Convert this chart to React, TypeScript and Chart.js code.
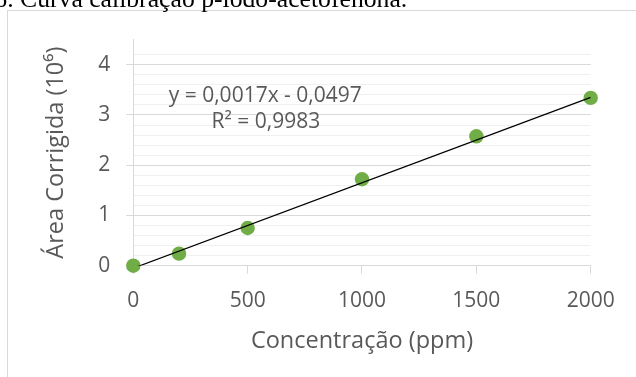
import React, { useEffect, useRef } from "react";
import { Chart, registerables } from "chart.js";
Chart.register(...registerables);

const CONCENTRATION = [0, 200, 500, 1000, 1500, 2000];
const AREA = [0, 0.24, 0.75, 1.72, 2.575, 3.34];
const TREND_SLOPE = 0.0017;
const TREND_INTERCEPT = -0.0497;
const TREND_X = [0, 2000];
const EQUATION_LABEL = "y = 0,0017x - 0,0497";
const R2_LABEL = "R² = 0,9983";
const X_TITLE = "Concentração (ppm)";
const Y_TITLE = "Área Corrigida (10⁶)";
const CAPTION = "6. Curva calibração p-iodo-acetofenona.";

const TEXT = "#595959";
const FONT_FAMILY = "'Open Sans', sans-serif";
const TICK_SIZE = 21;
const TITLE_SIZE = 23.5;

const isInt = (v: number) => Math.abs(v - Math.round(v)) < 1e-6;
const isMinor = (v: number) => Math.abs(v * 5 - Math.round(v * 5)) < 1e-6;

const labelPlugin = {
  id: "trendLabel",
  afterDatasetsDraw(chart: any) {
    const { ctx, scales } = chart;
    const x = scales.x;
    const y = scales.y;
    ctx.save();
    ctx.fillStyle = TEXT;
    ctx.font = `${TICK_SIZE}px ${FONT_FAMILY}`;
    ctx.textAlign = "center";
    ctx.textBaseline = "middle";
    ctx.fillText(EQUATION_LABEL, x.getPixelForValue(577), y.getPixelForValue(3.38));
    ctx.fillText(R2_LABEL, x.getPixelForValue(580), y.getPixelForValue(2.86));
    ctx.restore();
  },
};

export default function App() {
  const ref = useRef<HTMLCanvasElement | null>(null);

  useEffect(() => {
    if (!ref.current) return;
    const points = CONCENTRATION.map((c, i) => ({ x: c, y: AREA[i] }));
    const trend = TREND_X.map((c) => ({ x: c, y: TREND_SLOPE * c + TREND_INTERCEPT }));
    const chart = new Chart(ref.current, {
      type: "scatter",
      data: {
        datasets: [
          {
            type: "line",
            data: trend,
            borderColor: "#000000",
            borderWidth: 1.2,
            pointRadius: 0,
            fill: false,
            clip: 0,
          } as any,
          {
            type: "scatter",
            data: points,
            backgroundColor: "#70AD47",
            borderWidth: 0,
            pointRadius: 7.2,
            clip: false,
          } as any,
        ],
      },
      options: {
        animation: false,
        responsive: false,
        events: [],
        layout: { padding: { top: 27, right: 117.3, left: 0, bottom: 0 } },
        plugins: { legend: { display: false }, tooltip: { enabled: false } },
        scales: {
          x: {
            type: "linear",
            min: 0,
            max: 2000,
            afterFit: (s: any) => {
              s.height = 145.3;
            },
            ticks: {
              stepSize: 500,
              color: TEXT,
              font: { family: FONT_FAMILY, size: TICK_SIZE },
              padding: 14.5,
              maxRotation: 0,
              callback: (v: any) => String(Math.round(Number(v))),
            },
            grid: {
              drawOnChartArea: false,
              drawTicks: true,
              tickLength: 8,
              tickColor: "#d9d9d9",
              color: "#d9d9d9",
            },
            border: { color: "#d9d9d9", width: 1 },
            title: {
              display: true,
              text: X_TITLE,
              color: TEXT,
              font: { family: FONT_FAMILY, size: TITLE_SIZE },
              padding: { top: 0, bottom: 55.7 },
            },
          },
          y: {
            type: "linear",
            min: 0,
            max: 4.5,
            afterFit: (s: any) => {
              s.width = 125.3;
            },
            ticks: {
              stepSize: 0.2,
              autoSkip: false,
              color: TEXT,
              font: { family: FONT_FAMILY, size: TICK_SIZE },
              padding: 16,
              callback: (v: any) => (isInt(Number(v)) ? String(Math.round(Number(v))) : ""),
            },
            grid: {
              color: (c: any) =>
                isInt(c.tick.value) ? "#d9d9d9" : isMinor(c.tick.value) ? "#f0f0f0" : "rgba(0,0,0,0)",
              tickColor: (c: any) => (isInt(c.tick.value) ? "#d9d9d9" : "rgba(0,0,0,0)"),
              tickLength: 7,
              lineWidth: 1,
            },
            border: { color: "#d9d9d9", width: 1 },
            title: {
              display: true,
              text: Y_TITLE,
              color: TEXT,
              font: { family: FONT_FAMILY, size: TITLE_SIZE },
              padding: { top: 34.6, bottom: 0 },
            },
          },
        },
      },
      plugins: [labelPlugin],
    });
    return () => chart.destroy();
  }, []);

  return (
    <div
      style={{
        position: "fixed",
        left: 0,
        top: 0,
        width: 636,
        height: 377,
        overflow: "hidden",
        background: "#ffffff",
      }}
    >
      <div
        style={{
          position: "absolute",
          left: 7,
          top: 10,
          width: 720,
          height: 420,
          border: "1px solid #d9d9d9",
          boxSizing: "border-box",
        }}
      >
        <canvas ref={ref} width={700} height={400} style={{ position: "absolute", left: 0, top: 0 }} />
      </div>
      <div
        style={{
          position: "absolute",
          left: -5.7,
          top: -14.5,
          fontFamily: "'Liberation Serif', 'Times New Roman', serif",
          fontSize: "25.7px",
          lineHeight: "25.7px",
          whiteSpace: "nowrap",
          color: "#000000",
        }}
      >
        {CAPTION}
      </div>
    </div>
  );
}
